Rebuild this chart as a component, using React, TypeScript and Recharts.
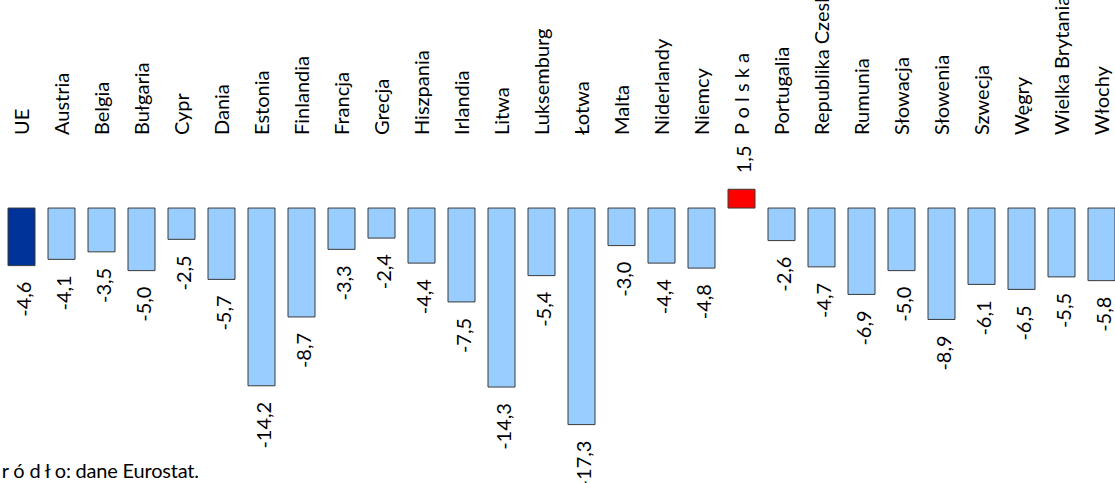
import React from "react";
import { BarChart, Bar, XAxis, YAxis, Cell, LabelList } from "recharts";

// ── Data ─────────────────────────────────────────────────────────────────────

const countries = [
  "UE", "Austria", "Belgia", "Bułgaria", "Cypr", "Dania", "Estonia",
  "Finlandia", "Francja", "Grecja", "Hiszpania", "Irlandia", "Litwa",
  "Luksemburg", "Łotwa", "Malta", "Niderlandy", "Niemcy", "P o l s k a",
  "Portugalia", "Republika Czeska", "Rumunia", "Słowacja", "Słowenia",
  "Szwecja", "Węgry", "Wielka Brytania", "Włochy",
];

const changes = [
  -4.6, -4.1, -3.5, -5.0, -2.5, -5.7, -14.2, -8.7, -3.3, -2.4, -4.4, -7.5,
  -14.3, -5.4, -17.3, -3.0, -4.4, -4.8, 1.5, -2.6, -4.7, -6.9, -5.0, -8.9,
  -6.1, -6.5, -5.5, -5.8,
];

const sourceNote = "Ź r ó d ł o: dane Eurostat.";

const data = countries.map((name, i) => ({ name, value: changes[i] }));

// ── Styles ───────────────────────────────────────────────────────────────────

const FONT = "Lato, 'Open Sans', sans-serif";
const FONT_SIZE = 20;
const NAME_BASE_Y = 135;
const LABEL_GAP = 16;

function barColor(name: string) {
  if (name === "UE") return "#003399";
  if (name === "P o l s k a") return "#ff0000";
  return "#99ccff";
}

const fmt = (v: number) => v.toFixed(1).replace(".", ",");

// ── Ticks & labels ───────────────────────────────────────────────────────────

function NameTick({ x, payload }: { x?: number; payload?: { value: string } }) {
  const cx = x ?? 0;
  return (
    <text
      x={cx}
      y={NAME_BASE_Y}
      transform={`rotate(-90, ${cx}, ${NAME_BASE_Y})`}
      textAnchor="start"
      dominantBaseline="central"
      fontFamily={FONT}
      fontSize={FONT_SIZE}
      fill="#000"
    >
      {payload?.value}
    </text>
  );
}

function ValueLabel(props: any) {
  const { x, y, width, height, value } = props;
  const cx = Number(x) + Number(width) / 2 + 2;
  const top = Math.min(Number(y), Number(y) + Number(height));
  const bottom = Math.max(Number(y), Number(y) + Number(height));
  const neg = Number(value) < 0;
  const ly = neg ? bottom + LABEL_GAP : top - LABEL_GAP;
  return (
    <text
      x={cx}
      y={ly}
      transform={`rotate(-90, ${cx}, ${ly})`}
      textAnchor={neg ? "end" : "start"}
      dominantBaseline="central"
      fontFamily={FONT}
      fontSize={FONT_SIZE}
      fill="#000"
    >
      {fmt(Number(value))}
    </text>
  );
}

// ── Chart ────────────────────────────────────────────────────────────────────

export default function App() {
  return (
    <div
      style={{
        position: "absolute",
        left: 0,
        top: 0,
        width: 1115,
        height: 483,
        overflow: "hidden",
        background: "#fff",
      }}
    >
      <BarChart
        width={1122}
        height={483}
        data={data}
        margin={{ top: 0, right: 1, left: 1, bottom: 24.6 }}
      >
        <XAxis
          dataKey="name"
          orientation="top"
          height={183}
          axisLine={false}
          tickLine={false}
          interval={0}
          tick={<NameTick />}
        />
        <YAxis hide domain={[-20, 2]} />
        <Bar
          dataKey="value"
          barSize={27}
          stroke="#3a3a3a"
          strokeWidth={1}
          isAnimationActive={false}
        >
          {data.map((d) => (
            <Cell key={d.name} fill={barColor(d.name)} />
          ))}
          <LabelList dataKey="value" content={<ValueLabel />} />
        </Bar>
      </BarChart>
      <div
        style={{
          position: "absolute",
          left: -15,
          top: 459,
          fontFamily: FONT,
          fontSize: FONT_SIZE,
          lineHeight: "22px",
          letterSpacing: "-0.2px",
          whiteSpace: "nowrap",
          color: "#000",
        }}
      >
        {sourceNote}
      </div>
    </div>
  );
}
